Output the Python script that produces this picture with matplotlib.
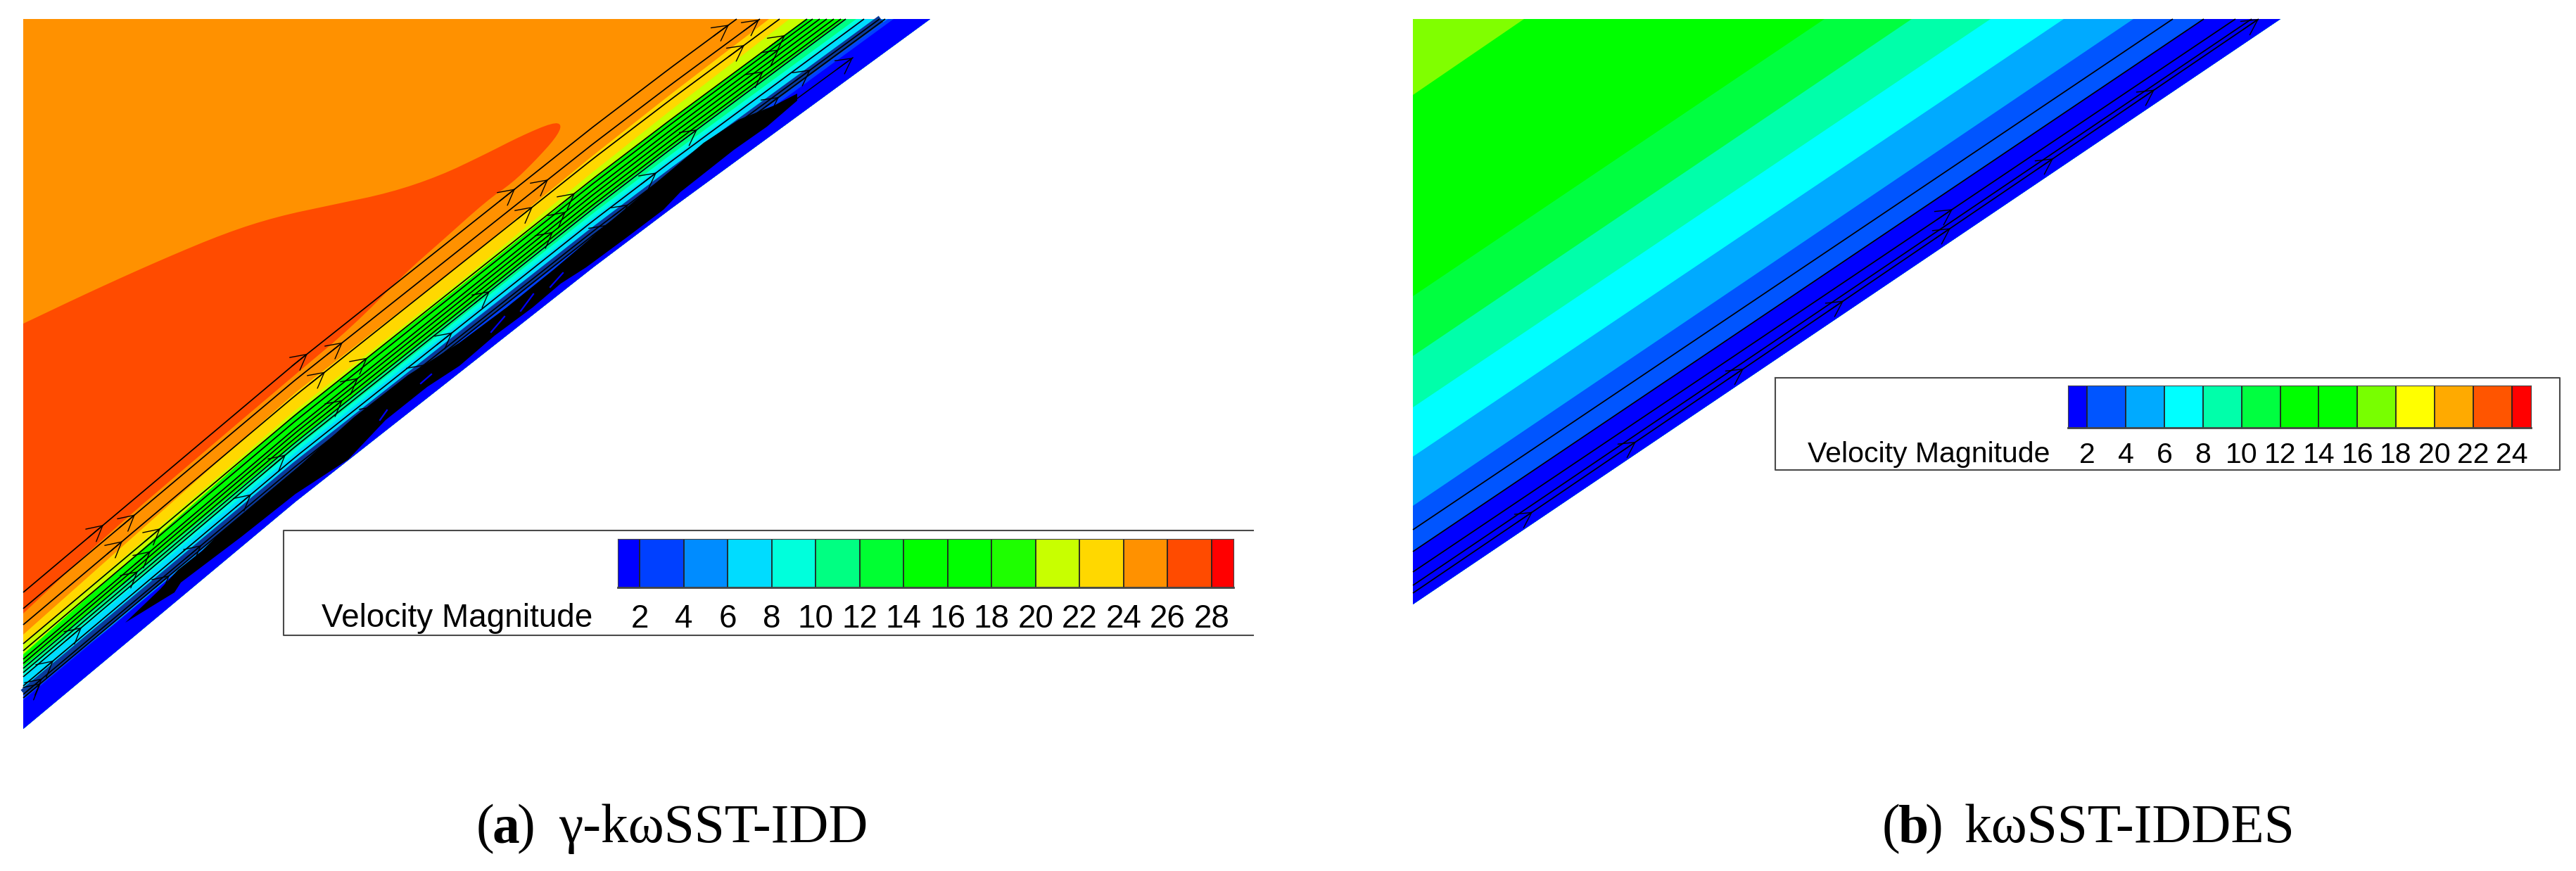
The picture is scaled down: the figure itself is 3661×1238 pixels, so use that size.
import numpy as np
import matplotlib
matplotlib.use("Agg")
import matplotlib.pyplot as plt
from matplotlib.colors import ListedColormap, BoundaryNorm

W, H = 3662, 1238
TOP = 27

# --- panel a: everything, in image pixels
wall_a_x = [33, 420, 843, 953, 1322]
wall_a_y = [1036, 713, 380, 297, 27]

# band edges: y where the edge leaves the left side, y over x=420 and x=660,
# x where it reaches the top
edges_a_left = [902, 915, 930, 947, 957, 963, 982, 987, 995]
edges_a_420 = [558, 583, 588, 628, 637, 643, 660, 690, 672]
edges_a_660 = [371, 395, 402, 440, 447, 454, 465, 479, 485]
edges_a_top = [1093, 1122, 1145, 1200, 1217, 1225, 1248, 1262, 1270]
edges_a_col = ["#ffd800", "#c8ff00", "#00ff00", "#00ff82", "#00ffdc",
               "#00dcff", "#008cff", "#0040ff", "#0000ff"]

red_x = [33, 134, 232, 321, 393, 473, 554, 625, 688, 741, 786, 799, 790, 759, 728, 692,
         625, 577, 500, 420, 295, 152, 33]
red_y = [460, 412, 368, 331, 308, 291, 274, 250, 220, 193, 174, 177, 196, 230, 260, 285,
         345, 387, 465, 532, 638, 760, 872]

black_low_x = [178, 248, 257, 343, 420, 495, 548, 607, 653, 703, 757, 797, 833, 890, 943, 967, 1043, 1090, 1133]
black_low_y = [885, 842, 828, 763, 702, 653, 597, 550, 520, 477, 437, 403, 380, 338, 298, 273, 213, 180, 143]
black_up_x = [178, 227, 253, 287, 310, 420, 503, 580, 653, 720, 787, 900, 1000, 1050, 1100, 1133]
black_up_y = [885, 838, 810, 783, 760, 667, 593, 533, 487, 437, 383, 287, 203, 170, 150, 133]

# dark mottled strip just over the black part
strip_left = 985
strip_top = 1252

streak_x0 = [800, 758, 717, 613, 550]
streak_y0 = [388, 418, 450, 532, 583]
streak_x1 = [782, 740, 698, 598, 540]
streak_y1 = [408, 442, 472, 545, 597]

lines_a_left = [842, 865, 888, 915, 925, 937, 943, 950, 956, 962, 975, 987, 992]
lines_a_top = [1047, 1080, 1108, 1147, 1155, 1165, 1175, 1185, 1195, 1202, 1228, 1250, 1258]
arrows_a = [
    [147, 437, 732, 1036],
    [192, 487, 779, 1079],
    [174, 462, 757, 1058],
    [228, 522, 817, 1116],
    [],
    [214, 509, 804, 1107],
    [],
    [196, 487, 786, 1085],
    [],
    [116, 406, 696, 991],
    [76, 357, 643, 933],
    [60, 286, 603, 893, 1152],
    [58, 241, 536, 862, 1107],
]
# short line near the wall at the top
near_wall_x = [1133, 1212]
near_wall_y = [140, 82]

# --- panel b
wall_b_x = [2008, 3241]
wall_b_y = [859, 27]
edges_b_left = [135, 421, 506, 579, 649, 719, 784]
edges_b_top = [2166, 2593, 2717, 2829, 2933, 3032, 3132]
edges_b_col = ["#00ff00", "#00ff40", "#00ffaa", "#00ffff", "#00aaff", "#0055ff", "#0000ff"]
corner_b_col = "#80ff00"

lines_b_left = [753, 784, 813, 832, 843]
lines_b_top = [3088, 3132, 3177, 3200, 3210]
arrows_b = [[], [], [2775], [], [2178, 2325, 2478, 2620, 2772, 2918, 3062, 3210]]

# --- legends
ticks_a = list(range(2, 29, 2))
cols_a = ["#0000ff", "#0040ff", "#008cff", "#00dcff", "#00ffdc", "#00ff82", "#00ff32", "#00ff00",
          "#00ff00", "#1eff00", "#c8ff00", "#ffd800", "#ff9100", "#ff4b00", "#ff0000"]
ticks_b = list(range(2, 25, 2))
cols_b = ["#0000ff", "#0055ff", "#00aaff", "#00ffff", "#00ffaa", "#00ff40", "#00ff00", "#00ff00",
          "#78ff00", "#ffff00", "#ffaa00", "#ff5500", "#ff0000"]

plt.rcParams["font.family"] = ["Liberation Sans", "DejaVu Sans"]
fig = plt.figure(figsize=(W / 100, H / 100), dpi=100)
ax = fig.add_axes([0, 0, 1, 1])
ax.set_xlim(0, W)
ax.set_ylim(H, 0)
ax.axis("off")


def edge_curve(wx, wy, y_left, x_top, mids=(), n=80):
    # edge runs at a slowly changing height over the wall
    sx = [wx[0]] + [m[0] for m in mids] + [x_top]
    sy = [y_left] + [m[1] for m in mids] + [TOP]
    sd = np.interp(sx, wx, wy) - np.array(sy)
    xs = np.linspace(wx[0], x_top, n)
    return xs, np.interp(xs, wx, wy) - np.interp(xs, sx, sd)


def band(wx, wy, y_left, x_top, col, mids=()):
    xs, ys = edge_curve(wx, wy, y_left, x_top, mids)
    # polygon: edge, along the top to the corner, back along the wall
    px = list(xs) + [wx[-1]] + list(wx[::-1])
    py = list(ys) + [wy[-1]] + list(wy[::-1])
    ax.fill(px, py, color=col, lw=0, zorder=2)


def add_arrow(x, y, slope):
    ax.annotate("", xy=(x, y), xytext=(x - 22, y - 22 * slope), zorder=5,
                arrowprops=dict(arrowstyle="->,head_length=0.6,head_width=0.32", color="black",
                                lw=1.0, mutation_scale=26, shrinkA=0, shrinkB=0))


def streamlines(wx, wy, left, top, arrows):
    for yl, xt, arr in zip(left, top, arrows):
        xs, ys = edge_curve(wx, wy, yl, xt)
        ax.plot(xs, ys, color="black", lw=1.25, zorder=4, solid_capstyle="butt")
        for xa in arr:
            ya = np.interp(xa, xs, ys)
            add_arrow(xa, ya, (ya - np.interp(xa - 10, xs, ys)) / 10)


def smooth(xs, ys, rounds=2):
    # corner cutting so the contour is not angular
    p = np.column_stack([xs, ys]).astype(float)
    for _ in range(rounds):
        q = [p[0]]
        for a, b in zip(p[:-1], p[1:]):
            q += [0.75 * a + 0.25 * b, 0.25 * a + 0.75 * b]
        q.append(p[-1])
        p = np.array(q)
    return p[:, 0], p[:, 1]


def legend(x0, x1, y0, y1, vmin, vmax, cols, ticks, fs):
    lax = fig.add_axes([x0 / W, 1 - y1 / H, (x1 - x0) / W, (y1 - y0) / H])
    edges = [vmin] + ticks + [vmax]
    lax.pcolormesh(edges, [0, 1], np.arange(len(cols)).reshape(1, -1),
                   cmap=ListedColormap(cols), norm=BoundaryNorm(np.arange(len(cols) + 1) - 0.5, len(cols)))
    lax.vlines(ticks, 0, 1, color="#222222", lw=1.3)
    lax.set_xlim(vmin, vmax)
    lax.set_yticks([])
    lax.set_xticks(ticks)
    lax.set_xticklabels([str(t) for t in ticks], fontsize=fs)
    lax.tick_params(axis="x", length=0, pad=fs * 0.5)
    for s in ["top", "left", "right"]:
        lax.spines[s].set_linewidth(0.8)
        lax.spines[s].set_color("#444444")
    lax.spines["bottom"].set_linewidth(2)
    lax.spines["bottom"].set_color("#444444")


# panel a contours
ax.fill([33, 1322] + wall_a_x[::-1], [TOP, TOP] + wall_a_y[::-1], color="#ff9100", lw=0, zorder=1)
rx, ry = smooth(red_x, red_y)
ax.fill(rx, ry, color="#ff4b00", lw=0, zorder=1.5)
for yl, y4, y6, xt, col in zip(edges_a_left, edges_a_420, edges_a_660, edges_a_top, edges_a_col):
    band(wall_a_x, wall_a_y, yl, xt, col, [(420, y4), (660, y6)])

# dark strip and black part over the wall
sx, sy = edge_curve(wall_a_x, wall_a_y, strip_left, strip_top)
ax.plot(sx, sy, color="#0a3a9a", lw=8, zorder=3, solid_capstyle="butt")
ax.fill(black_up_x + black_low_x[::-1], black_up_y + black_low_y[::-1], color="black", lw=0, zorder=3.5)
for a, b, c, d in zip(streak_x0, streak_y0, streak_x1, streak_y1):
    ax.plot([a, c], [b, d], color="#0000ff", lw=1.6, zorder=3.6)

streamlines(wall_a_x, wall_a_y, lines_a_left, lines_a_top, arrows_a)
ax.plot(near_wall_x, near_wall_y, color="black", lw=1.1, zorder=4)
add_arrow(near_wall_x[1], near_wall_y[1], (near_wall_y[1] - near_wall_y[0]) / (near_wall_x[1] - near_wall_x[0]))

# panel b contours
ax.fill([2008, 3241, 2008], [TOP, TOP, 859], color=corner_b_col, lw=0, zorder=1)
for yl, xt, col in zip(edges_b_left, edges_b_top, edges_b_col):
    band(wall_b_x, wall_b_y, yl, xt, col)
streamlines(wall_b_x, wall_b_y, lines_b_left, lines_b_top, arrows_b)

# legend boxes
ax.plot([1781, 403, 403, 1781], [754, 754, 903, 903], color="#4a4a4a", lw=1.5, zorder=6)
ax.plot([2523, 3638, 3638, 2523, 2523], [537, 537, 668, 668, 537], color="#4a4a4a", lw=1.5, zorder=6)
legend(878, 1753, 766, 835, 1, 29, cols_a, ticks_a, 33)
legend(2939, 3597, 548, 608, 1, 25, cols_b, ticks_b, 29.5)
ax.text(457, 891, "Velocity Magnitude", fontsize=33, ha="left", va="baseline", zorder=7)
ax.text(2569, 657, "Velocity Magnitude", fontsize=29.5, ha="left", va="baseline", zorder=7)

# captions
cap = dict(family=["Liberation Serif", "DejaVu Serif"], fontsize=55.8, va="baseline", zorder=7)
ax.text(677, 1197, "(", **cap)
ax.text(700, 1197, "a", fontweight="bold", **cap)
ax.text(735, 1197, ")", **cap)
ax.text(794, 1197, "γ-kωSST-IDD", **cap)
ax.text(2675, 1197, "(", **cap)
ax.text(2698, 1197, "b", fontweight="bold", **cap)
ax.text(2736, 1197, ")", **cap)
ax.text(2792, 1197, "kωSST-IDDES", **cap)

fig.savefig("out.png", dpi=100)
